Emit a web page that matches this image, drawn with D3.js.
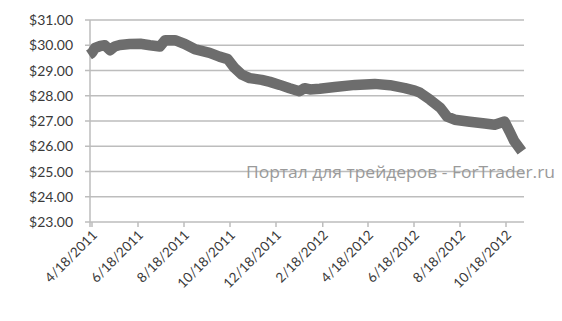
<!doctype html>
<html lang="en">
<head>
<meta charset="utf-8">
<title>Price chart - D3</title>
<style>
  body { margin: 0; background: #fff; }
  svg { display: block; }
  .lbl { font-family: Lato, "Open Sans", sans-serif; fill: #3a3a3a; }
</style>
</head>
<body>
<svg width="562" height="321"></svg>
<script src="https://cdn.jsdelivr.net/npm/d3@7"></script>
<script>
// data
var dates = ['4/14/2011', '4/18/2011', '4/22/2011', '4/29/2011', '5/5/2011', '5/12/2011', '5/18/2011',
  '5/25/2011', '6/7/2011', '6/21/2011', '7/4/2011', '7/17/2011', '7/24/2011', '8/6/2011', '8/19/2011',
  '9/1/2011', '9/21/2011', '10/4/2011', '10/15/2011', '10/24/2011', '11/3/2011', '11/13/2011',
  '11/29/2011', '12/10/2011', '12/23/2011', '1/5/2012', '1/18/2012', '1/25/2012', '2/1/2012',
  '2/14/2012', '3/5/2012', '4/1/2012', '4/27/2012', '5/17/2012', '6/6/2012', '6/19/2012', '6/26/2012',
  '7/9/2012', '7/23/2012', '8/1/2012', '8/11/2012', '8/31/2012', '9/20/2012', '10/3/2012',
  '10/16/2012', '10/23/2012', '10/29/2012', '11/8/2012'];
var prices = [29.62, 29.7, 29.89, 29.97, 30.0, 29.8, 29.95,
  30.01, 30.05, 30.06, 30.0, 29.95, 30.2, 30.2, 30.05,
  29.85, 29.7, 29.55, 29.45, 29.1, 28.83, 28.7,
  28.63, 28.55, 28.43, 28.3, 28.18, 28.3, 28.25,
  28.28, 28.35, 28.43, 28.47, 28.42, 28.3, 28.2, 28.12,
  27.85, 27.52, 27.17, 27.05, 26.97, 26.9, 26.85,
  26.98, 26.57, 26.2, 25.8];
var tickLabels = ['4/18/2011', '6/18/2011', '8/18/2011', '10/18/2011', '12/18/2011',
  '2/18/2012', '4/18/2012', '6/18/2012', '8/18/2012', '10/18/2012'];
var yTicks = [23, 24, 25, 26, 27, 28, 29, 30, 31];
var watermark = 'Портал для трейдеров - ForTrader.ru';

var parse = d3.timeParse('%m/%d/%Y');
var data = dates.map(function (d, i) { return { date: parse(d), value: prices[i] }; });
var tickDates = tickLabels.map(parse);

var svg = d3.select('svg');

var x = d3.scaleTime()
  .domain([tickDates[0], tickDates[tickDates.length - 1]])
  .range([92, 506]);
var y = d3.scaleLinear().domain([23, 31]).range([222, 20]);

var left = 90, right = 524;

// horizontal gridlines with small outer ticks
svg.append('g').selectAll('line').data(yTicks).enter()
  .append('line')
  .attr('x1', left - 5)
  .attr('x2', right)
  .attr('y1', function (d) { return y(d); })
  .attr('y2', function (d) { return y(d); })
  .attr('stroke', '#bdbdbd')
  .attr('stroke-width', 1.5);

// y axis line
svg.append('line')
  .attr('x1', left).attr('x2', left)
  .attr('y1', y(31)).attr('y2', y(23) + 5)
  .attr('stroke', '#bdbdbd').attr('stroke-width', 1.5);

// y labels
svg.append('g').selectAll('text').data(yTicks).enter()
  .append('text')
  .attr('class', 'lbl')
  .attr('x', 73)
  .attr('y', function (d) { return y(d) + 5; })
  .attr('text-anchor', 'end')
  .attr('font-size', '14px')
  .text(function (d) { return '$' + d.toFixed(2); });

// x ticks
svg.append('g').selectAll('line').data(tickDates).enter()
  .append('line')
  .attr('x1', function (d) { return x(d); })
  .attr('x2', function (d) { return x(d); })
  .attr('y1', y(23))
  .attr('y2', y(23) + 5)
  .attr('stroke', '#bdbdbd')
  .attr('stroke-width', 1.5);

// x labels, rotated
svg.append('g').selectAll('text').data(tickDates).enter()
  .append('text')
  .attr('class', 'lbl')
  .attr('font-size', '13.5px')
  .attr('text-anchor', 'end')
  .attr('transform', function (d) {
    return 'translate(' + (x(d) + 6) + ',' + (y(23) + 14) + ') rotate(-45)';
  })
  .text(function (d, i) { return tickLabels[i]; });

// price line
var line = d3.line()
  .x(function (d) { return x(d.date); })
  .y(function (d) { return y(d.value); });

svg.append('path')
  .datum(data)
  .attr('d', line)
  .attr('fill', 'none')
  .attr('stroke', '#6d6d6d')
  .attr('stroke-width', 10.5)
  .attr('stroke-linejoin', 'round')
  .attr('stroke-linecap', 'butt');

// watermark
svg.append('text')
  .attr('x', 246)
  .attr('y', 178)
  .attr('font-family', '"Open Sans", sans-serif')
  .attr('font-size', '16.5px')
  .attr('fill', '#9a9a9a')
  .attr('textLength', 309)
  .attr('lengthAdjust', 'spacingAndGlyphs')
  .text(watermark);
</script>
</body>
</html>
